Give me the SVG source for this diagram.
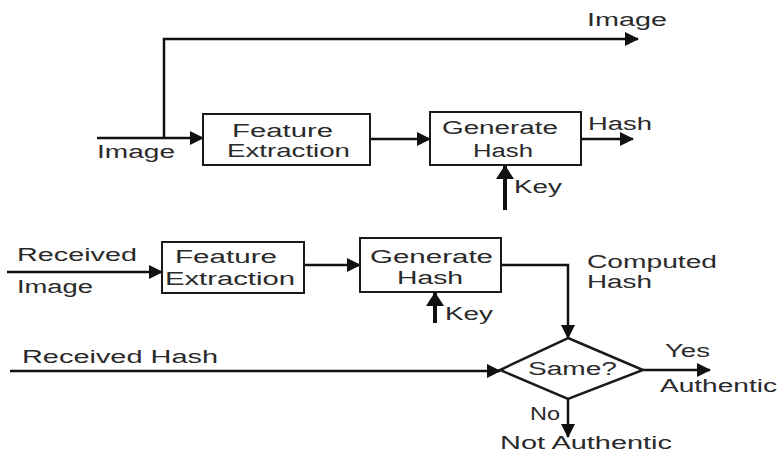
<svg xmlns="http://www.w3.org/2000/svg" width="781" height="453" viewBox="0 0 781 453">
<style>
text{font-family:"Liberation Sans",Arial,sans-serif;font-size:18px;fill:#2a2a2a;}
.box{fill:#fff;stroke:#1a1a1a;stroke-width:2;}
.c{fill:none;stroke:#111;stroke-width:2.5;marker-end:url(#ah);}
.k{fill:none;stroke:#111;stroke-width:4;marker-end:url(#ak);}
.d{fill:#fff;stroke:#1a1a1a;stroke-width:2.5;}
</style>
<defs>
<marker id="ah" markerUnits="userSpaceOnUse" markerWidth="14" markerHeight="14" refX="13" refY="7" orient="auto"><path d="M0,0 L14,7 L0,14 z" fill="#111"/></marker>
<marker id="ak" markerUnits="userSpaceOnUse" markerWidth="14" markerHeight="18" refX="13" refY="9" orient="auto"><path d="M0,0 L14,9 L0,18 z" fill="#111"/></marker>
</defs>
<rect width="781" height="453" fill="#fff"/>
<g id="connectors">
<path class="c" d="M164,138 V39 H638"/>
<path class="c" d="M97,138 H203"/>
<path class="c" d="M370,139 H430"/>
<path class="c" d="M581,139 H633"/>
<path class="k" d="M505,210 V166"/>
<path class="c" d="M7,272 H162"/>
<path class="c" d="M304,265 H360"/>
<path class="c" d="M501,265 H568 V338"/>
<path class="k" d="M435,323 V293"/>
<path class="c" d="M10,371 H500"/>
<path class="c" d="M643,370 H710"/>
<path class="c" d="M568,399 V437"/>
</g>
<g id="fe1">
<rect class="box" x="203" y="114" width="167" height="51"/>
<text x="232" y="137" textLength="101" lengthAdjust="spacingAndGlyphs">Feature</text>
<text x="227" y="157" textLength="123" lengthAdjust="spacingAndGlyphs">Extraction</text>
</g>
<g id="gh1">
<rect class="box" x="430" y="112" width="151" height="53"/>
<text x="442" y="134" textLength="116" lengthAdjust="spacingAndGlyphs">Generate</text>
<text x="473" y="157" textLength="60" lengthAdjust="spacingAndGlyphs">Hash</text>
</g>
<g id="fe2">
<rect class="box" x="162" y="242" width="142" height="51"/>
<text x="175" y="263" textLength="102" lengthAdjust="spacingAndGlyphs">Feature</text>
<text x="165" y="285" textLength="130" lengthAdjust="spacingAndGlyphs">Extraction</text>
</g>
<g id="gh2">
<rect class="box" x="360" y="238" width="141" height="54"/>
<text x="370" y="263" textLength="123" lengthAdjust="spacingAndGlyphs">Generate</text>
<text x="397" y="284" textLength="66" lengthAdjust="spacingAndGlyphs">Hash</text>
</g>
<g id="same">
<polygon class="d" points="568,338 643,370 568,399 500,370"/>
<text x="528" y="375" textLength="89" lengthAdjust="spacingAndGlyphs">Same?</text>
</g>
<g id="labels">
<text x="587" y="26" textLength="80" lengthAdjust="spacingAndGlyphs">Image</text>
<text x="97" y="158" textLength="78" lengthAdjust="spacingAndGlyphs">Image</text>
<text x="588" y="130" textLength="64" lengthAdjust="spacingAndGlyphs">Hash</text>
<text x="514" y="193" textLength="48" lengthAdjust="spacingAndGlyphs">Key</text>
<text x="17" y="261" textLength="120" lengthAdjust="spacingAndGlyphs">Received</text>
<text x="17" y="293" textLength="76" lengthAdjust="spacingAndGlyphs">Image</text>
<text x="445" y="320" textLength="48" lengthAdjust="spacingAndGlyphs">Key</text>
<text x="587" y="268" textLength="130" lengthAdjust="spacingAndGlyphs">Computed</text>
<text x="587" y="288" textLength="65" lengthAdjust="spacingAndGlyphs">Hash</text>
<text x="22" y="363" textLength="196" lengthAdjust="spacingAndGlyphs">Received Hash</text>
<text x="665" y="357" textLength="45" lengthAdjust="spacingAndGlyphs">Yes</text>
<text x="660" y="392" textLength="117" lengthAdjust="spacingAndGlyphs">Authentic</text>
<text x="530" y="420" textLength="30" lengthAdjust="spacingAndGlyphs">No</text>
<text x="500" y="449" textLength="172" lengthAdjust="spacingAndGlyphs">Not Authentic</text>
</g>
</svg>
